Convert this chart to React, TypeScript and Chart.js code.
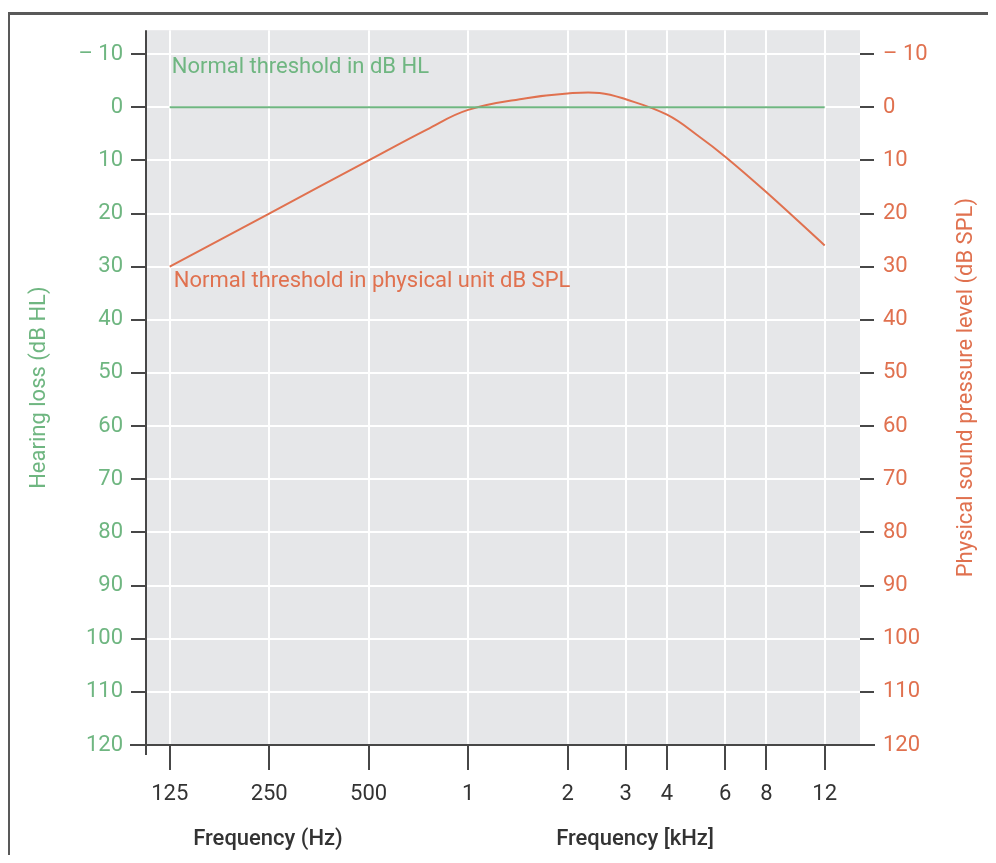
import React, { useEffect, useRef } from "react";
import { Chart, registerables } from "chart.js";

Chart.register(...registerables);

// ---- data ----
const xTickValues = [125, 250, 500, 1000, 2000, 3000, 4000, 6000, 8000, 12000];
const xTickLabels = ["125", "250", "500", "1", "2", "3", "4", "6", "8", "12"];
const yTickValues = [-10, 0, 10, 20, 30, 40, 50, 60, 70, 80, 90, 100, 110, 120];

const splFreqs = [125, 250, 500, 750, 1000, 1500, 2000, 2500, 3000, 4000, 5000, 6000, 8000, 12000];
const splThreshold = [30, 20, 10, 4.2, 0.5, -1.7, -2.6, -2.7, -1.5, 1.4, 5.5, 9.3, 16, 26];

const hlFreqs = [125, 12000];
const hlThreshold = [0, 0];

const GREEN = "#6fb681";
const ORANGE = "#e0714f";
const AXIS = "#474747";
const FONT = "Roboto";

const decor = {
  id: "decor",
  beforeDraw(chart: any) {
    const { ctx, chartArea: a } = chart;
    ctx.save();
    ctx.fillStyle = "#e6e7e9";
    ctx.fillRect(a.left, a.top, a.right - a.left, a.bottom - a.top);
    ctx.restore();
  },
  afterDraw(chart: any) {
    const { ctx, chartArea: a } = chart;
    const xs = chart.scales.x;
    const ys = chart.scales.y;
    ctx.save();
    // axis lines
    ctx.strokeStyle = AXIS;
    ctx.lineWidth = 2;
    ctx.beginPath();
    ctx.moveTo(a.left - 1, a.top);
    ctx.lineTo(a.left - 1, a.bottom + 10);
    ctx.moveTo(a.left - 17, a.bottom);
    ctx.lineTo(a.right + 15, a.bottom);
    ctx.stroke();

    // annotations
    ctx.font = `22px ${FONT}`;
    ctx.textBaseline = "middle";
    ctx.textAlign = "left";
    ctx.fillStyle = GREEN;
    ctx.fillText("Normal threshold in dB HL", xs.getPixelForValue(125) + 2, ys.getPixelForValue(-7.4));
    ctx.fillStyle = ORANGE;
    ctx.fillText("Normal threshold in physical unit dB SPL", xs.getPixelForValue(125) + 4, ys.getPixelForValue(32.8));

    // axis titles
    const cy = (a.top + a.bottom) / 2;
    ctx.textAlign = "center";
    ctx.save();
    ctx.translate(31, cy);
    ctx.rotate(-Math.PI / 2);
    ctx.fillStyle = GREEN;
    ctx.fillText("Hearing loss (dB HL)", 0, 0);
    ctx.restore();
    ctx.save();
    ctx.translate(958, cy);
    ctx.rotate(-Math.PI / 2);
    ctx.fillStyle = ORANGE;
    ctx.fillText("Physical sound pressure level (dB SPL)", 0, 0);
    ctx.restore();

    ctx.font = `500 22px ${FONT}`;
    ctx.fillStyle = "#333333";
    ctx.fillText("Frequency (Hz)", 260, 831);
    ctx.fillText("Frequency [kHz]", 627, 831);
    ctx.restore();
  },
};

const yTickCb = (v: any) => (v < 0 ? "\u2013 " + -v : String(v));

export default function App() {
  const ref = useRef<HTMLCanvasElement>(null);
  useEffect(() => {
    if (!ref.current) return;
    const chart = new Chart(ref.current, {
      type: "line",
      data: {
        datasets: [
          {
            label: "dB HL",
            data: hlFreqs.map((f, i) => ({ x: f, y: hlThreshold[i] })),
            borderColor: GREEN,
            borderWidth: 2,
            pointRadius: 0,
            yAxisID: "y",
          },
          {
            label: "dB SPL",
            data: splFreqs.map((f, i) => ({ x: f, y: splThreshold[i] })),
            borderColor: ORANGE,
            borderWidth: 2,
            pointRadius: 0,
            tension: 0.4,
            yAxisID: "y2",
          },
        ],
      },
      options: {
        animation: false,
        responsive: false,
        layout: { padding: { top: 22, left: 0, right: 0, bottom: 0 } },
        plugins: { legend: { display: false }, tooltip: { enabled: false } },
        scales: {
          x: {
            type: "logarithmic",
            position: "bottom",
            min: 106.7,
            max: 15350,
            afterBuildTicks: (s: any) => {
              s.ticks = xTickValues.map((v) => ({ value: v }));
            },
            afterFit: (s: any) => {
              s.height = 110;
            },
            grid: { color: "#ffffff", lineWidth: 2, tickColor: AXIS, tickLength: 25 },
            border: { display: false },
            ticks: {
              autoSkip: false,
              maxRotation: 0,
              padding: 11,
              color: "#333333",
              font: { family: FONT, size: 22 },
              callback: (_v: any, i: number) => xTickLabels[i],
            },
          },
          y: {
            type: "linear",
            position: "left",
            reverse: true,
            min: -14.5,
            max: 120,
            afterBuildTicks: (s: any) => {
              s.ticks = yTickValues.map((v) => ({ value: v }));
            },
            afterFit: (s: any) => {
              s.width = 139;
            },
            grid: { color: "#ffffff", lineWidth: 2, tickColor: AXIS, tickLength: 16 },
            border: { display: false },
            ticks: {
              padding: 8,
              color: GREEN,
              font: { family: FONT, size: 22 },
              callback: yTickCb,
            },
          },
          y2: {
            type: "linear",
            position: "right",
            reverse: true,
            min: -14.5,
            max: 120,
            afterBuildTicks: (s: any) => {
              s.ticks = yTickValues.map((v) => ({ value: v }));
            },
            afterFit: (s: any) => {
              s.width = 136;
            },
            grid: { drawOnChartArea: false, lineWidth: 2, tickColor: AXIS, tickLength: 14 },
            border: { display: false },
            ticks: {
              padding: 9,
              color: ORANGE,
              font: { family: FONT, size: 22 },
              callback: yTickCb,
            },
          },
        },
      },
      plugins: [decor],
    } as any);
    return () => chart.destroy();
  }, []);

  return (
    <div style={{ position: "relative", width: 988, height: 847 }}>
      <div
        style={{
          position: "absolute",
          left: -1,
          top: 4,
          width: 989,
          height: 851,
          boxSizing: "border-box",
          borderTop: "3px solid #595959",
          borderLeft: "3px solid #595959",
        }}
      />
      <canvas ref={ref} width={988} height={847} style={{ position: "relative", display: "block" }} />
    </div>
  );
}
